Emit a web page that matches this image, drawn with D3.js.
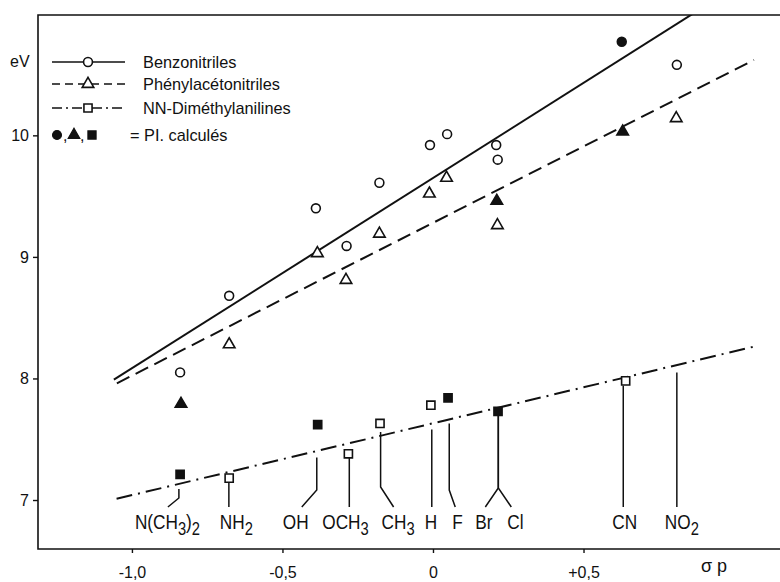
<!DOCTYPE html>
<html>
<head>
<meta charset="utf-8">
<script src="https://cdn.jsdelivr.net/npm/d3@7"></script>
<style>
  body { margin: 0; background: #fff; }
  text { font-family: "Liberation Sans", Arial, sans-serif; fill: #111; }
</style>
</head>
<body>
<script>
// Define constants
const width = 780
const height = 582
const margin = {top: 15, right: 2, bottom: 33, left: 38}
const ink = "#111"

// Data: sigma p (x) and ionisation potential in eV (y)
const benzSigma = [-0.84, -0.677, -0.389, -0.287, -0.178, -0.01, 0.047, 0.21, 0.215, 0.81]
const benzEV    = [8.05, 8.68, 9.40, 9.09, 9.61, 9.92, 10.01, 9.92, 9.80, 10.58]
const benzCalcSigma = [0.627]
const benzCalcEV    = [10.77]

const phenSigma = [-0.677, -0.384, -0.289, -0.178, -0.012, 0.045, 0.214, 0.808]
const phenEV    = [8.28, 9.03, 8.81, 9.19, 9.52, 9.65, 9.26, 10.14]
const phenCalcSigma = [-0.837, 0.212, 0.63]
const phenCalcEV    = [7.79, 9.46, 10.03]

const anilSigma = [-0.677, -0.281, -0.176, -0.007, 0.64]
const anilEV    = [7.18, 7.38, 7.63, 7.78, 7.98]
const anilCalcSigma = [-0.84, -0.383, 0.05, 0.216]
const anilCalcEV    = [7.21, 7.62, 7.84, 7.73]

// fitted lines, end points [sigma, eV]
const benzLine = [[-1.06, 7.99], [0.863, 11.0]]
const phenLine = [[-1.05, 7.96], [1.066, 10.62]]
const anilLine = [[-1.051, 7.01], [1.08, 8.27]]

// substituent labels and their leader lines
const subLabels = ["N(CH3)2", "NH2", "OH", "OCH3", "CH3", "H", "F", "Br", "Cl", "CN", "NO2"]
const subSigma  = [-0.844, -0.678, -0.386, -0.278, -0.174, -0.004, 0.054, 0.217, 0.217, 0.632, 0.81]
const leaderTop = [7.09, 7.15, 7.35, 7.35, 7.56, 7.58, 7.63, 7.70, 7.70, 7.94, 8.05]

const xTicks = [-1, -0.5, 0, 0.5]
const xTickText = ["-1,0", "-0,5", "0", "+0,5"]
const yTicks = [7, 8, 9, 10]

const legendNames = ["Benzonitriles", "Phénylacétonitriles", "NN-Diméthylanilines"]

// leader layout (pixels)
const bendY  = [498, null, 490, null, 487, null, 490, 488, 488, null, null]
const footDx = [-11, 0, -15, 0, 13, 0, 6, -13, 13, 0, 0]
const labelDx = [-44, -9, -34, -27, 1, -7, 3, -23, 9, -11, -12]
const footY = 507
const labelY = 529

// Define svg
const svg = d3.select("body").append("svg")
  .attr("width", width)
  .attr("height", height)

const x = d3.scaleLinear().domain([-1.312, 1.146]).range([margin.left, 778])
const y = d3.scaleLinear().domain([6.597, 10.99]).range([height - margin.bottom, margin.top])

svg.append("clipPath").attr("id", "plot")
  .append("rect")
  .attr("x", margin.left).attr("y", margin.top)
  .attr("width", width - margin.left).attr("height", height - margin.top - margin.bottom)

// frame
svg.append("path")
  .attr("d", `M${width},${margin.top}H${margin.left}V${height - margin.bottom}H${width}`)
  .attr("fill", "none").attr("stroke", ink).attr("stroke-width", 1.6)

// axes
const xAxisG = svg.append("g")
  .attr("transform", `translate(0,${height - margin.bottom})`)
  .call(d3.axisBottom(x).tickValues(xTicks).tickSize(4).tickPadding(14)
    .tickFormat((d, i) => xTickText[i]))
xAxisG.select(".domain").remove()

const yAxisG = svg.append("g")
  .attr("transform", `translate(${margin.left},0)`)
  .call(d3.axisLeft(y).tickValues(yTicks).tickSize(5).tickPadding(4).tickFormat(d3.format("d")))
yAxisG.select(".domain").remove()

svg.selectAll(".tick line").attr("stroke", ink).attr("stroke-width", 1.4)
svg.selectAll(".tick text").attr("font-size", 16).style("font-family", "Liberation Sans, sans-serif")

svg.append("text").attr("x", 10).attr("y", 67).attr("font-size", 16).text("eV")
svg.append("text").attr("x", 701).attr("y", 572).attr("font-size", 18).text("σ p")

// regression lines
const line = d3.line().x(d => x(d[0])).y(d => y(d[1]))
const styles = [
  {data: benzLine, dash: null},
  {data: phenLine, dash: "14,7"},
  {data: anilLine, dash: "16,6,2,6"}
]
styles.forEach(s => {
  svg.append("path")
    .attr("clip-path", "url(#plot)")
    .attr("d", line(s.data))
    .attr("fill", "none")
    .attr("stroke", ink)
    .attr("stroke-width", 2)
    .attr("stroke-dasharray", s.dash)
})

// markers
const circleSym = d3.symbol().type(d3.symbolCircle).size(62)
const triSym = d3.symbol().type(d3.symbolTriangle).size(58)
const sqSym = d3.symbol().type(d3.symbolSquare).size(66)

const drawMarks = (sig, ev, sym, filled) => {
  svg.append("g").selectAll("path")
    .data(sig)
    .enter().append("path")
    .attr("transform", (d, i) => `translate(${x(d)},${y(ev[i])})`)
    .attr("d", sym)
    .attr("fill", filled ? ink : "#fff")
    .attr("stroke", ink)
    .attr("stroke-width", 1.6)
}

// leader lines
subLabels.forEach((lab, i) => {
  const lx = x(subSigma[i])
  let d = `M${lx},${y(leaderTop[i])}`
  if (bendY[i] !== null) {
    d += `V${bendY[i]}L${lx + footDx[i]},${footY}`
  } else {
    d += `V${footY}`
  }
  svg.append("path").attr("d", d).attr("fill", "none")
    .attr("stroke", ink).attr("stroke-width", 1.5)
})

drawMarks(benzSigma, benzEV, circleSym, false)
drawMarks(benzCalcSigma, benzCalcEV, circleSym, true)
drawMarks(phenSigma, phenEV, triSym, false)
drawMarks(phenCalcSigma, phenCalcEV, triSym, true)
drawMarks(anilSigma, anilEV, sqSym, false)
drawMarks(anilCalcSigma, anilCalcEV, sqSym, true)

// substituent labels with subscripts (condensed like the original lettering)
subLabels.forEach((lab, i) => {
  const t = svg.append("text")
    .attr("transform", `translate(${x(subSigma[i]) + labelDx[i]},${labelY}) scale(0.82,1)`)
    .attr("font-size", 21)
  const parts = lab.match(/\d+|[^\d]+/g)
  let sub = false
  parts.forEach(p => {
    const isNum = /\d/.test(p)
    const ts = t.append("tspan").text(p)
    if (isNum && !sub) { ts.attr("dy", 6).attr("font-size", 18); sub = true }
    else if (isNum) { ts.attr("font-size", 18) }
    else if (sub) { ts.attr("dy", -6); sub = false }
  })
})

// legend
const legX0 = 52, legX1 = 125, legMark = 88, legText = 143
const legRows = [62, 84, 108]
const legSyms = [circleSym, triSym, sqSym]
legendNames.forEach((name, i) => {
  const ly = legRows[i]
  svg.append("line")
    .attr("x1", legX0).attr("x2", legX1).attr("y1", ly).attr("y2", ly)
    .attr("stroke", ink).attr("stroke-width", 1.6)
    .attr("stroke-dasharray", styles[i].dash ? (i === 1 ? "8,5" : "10,4,2,4") : null)
  svg.append("path").attr("transform", `translate(${legMark},${ly})`)
    .attr("d", legSyms[i]).attr("fill", "#fff").attr("stroke", ink).attr("stroke-width", 1.6)
  svg.append("text").attr("transform", `translate(${legText},${ly + 6}) scale(0.96,1)`)
    .attr("font-size", 17).text(name)
})
const calcY = 135
;[[57, circleSym], [74, triSym], [92, sqSym]].forEach(([mx, sym]) => {
  svg.append("path").attr("transform", `translate(${mx},${calcY})`)
    .attr("d", sym).attr("fill", ink).attr("stroke", ink).attr("stroke-width", 1.2)
})
svg.append("text").attr("x", 63).attr("y", calcY + 6).attr("font-size", 16).text(",")
svg.append("text").attr("x", 80).attr("y", calcY + 6).attr("font-size", 16).text(",")
svg.append("text").attr("transform", `translate(130,${calcY + 6}) scale(0.96,1)`)
  .attr("font-size", 17).text("= PI. calculés")
</script>
</body>
</html>
